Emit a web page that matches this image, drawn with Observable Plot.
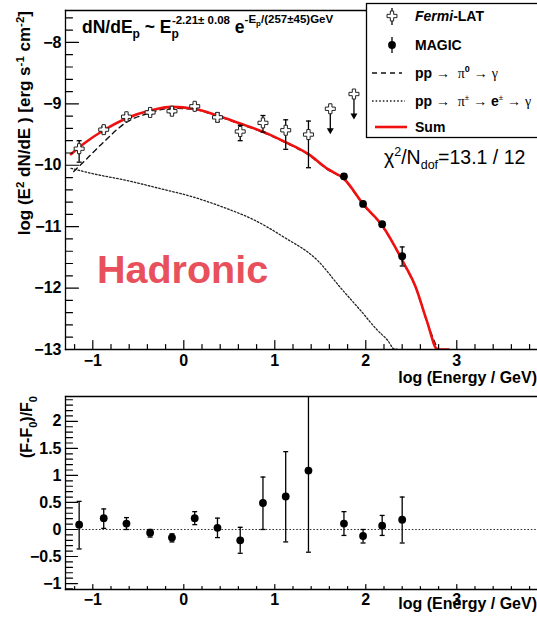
<!DOCTYPE html>
<html><head><meta charset="utf-8">
<script src="https://cdn.jsdelivr.net/npm/d3@7"></script>
<script src="https://cdn.jsdelivr.net/npm/@observablehq/plot@0.6"></script>
<style>
body{margin:0;background:#fff;}
#wrap{position:relative;width:537px;height:623px;overflow:hidden;background:#fff;}
#wrap svg{position:absolute;left:0;overflow:visible;}
</style></head><body><div id="wrap"></div>
<script>
// ---------- data ----------
const fermiX  = [-1.15,-0.88,-0.63,-0.37,-0.13,0.12,0.37,0.62,0.87,1.12,1.37];
const fermiY  = [-9.73,-9.42,-9.21,-9.14,-9.12,-9.04,-9.22,-9.45,-9.31,-9.43,-9.50];
const fermiLo = [-9.95,-9.47,-9.24,-9.17,-9.15,-9.07,-9.29,-9.60,-9.46,-9.74,-10.04];
const fermiHi = [-9.60,-9.37,-9.18,-9.11,-9.09,-9.01,-9.15,-9.35,-9.19,-9.26,-9.28];
const ulX   = [1.61, 1.87];
const ulY   = [-9.08, -8.84];
const ulEnd = [-9.43, -9.19];
const magicX  = [1.76, 1.97, 2.18, 2.40];
const magicY  = [-10.18, -10.63, -10.96, -11.48];
const magicLo = [-10.22, -10.67, -11.00, -11.64];
const magicHi = [-10.14, -10.59, -10.92, -11.33];
const sumX = [-1.24,-1.10,-0.88,-0.62,-0.37,-0.13,0.11,0.37,0.62,0.88,1.10,1.37,1.58,1.76,1.98,2.18,2.42,2.55,2.67,2.79,2.91];
const sumY = [-9.82,-9.65,-9.43,-9.23,-9.11,-9.05,-9.08,-9.19,-9.32,-9.46,-9.61,-9.82,-10.06,-10.22,-10.65,-10.98,-11.60,-11.99,-12.53,-13.0,-13.0];
const pi0X = [-1.21,-1.05,-0.88,-0.62,-0.40,-0.13,0.11,0.37,0.62,0.88,1.10,1.37,1.58,1.76,1.98,2.18,2.42,2.55,2.67,2.79];
const pi0Y = [-10.10,-9.87,-9.62,-9.29,-9.16,-9.07,-9.09,-9.20,-9.33,-9.47,-9.62,-9.83,-10.07,-10.23,-10.66,-10.99,-11.61,-12.00,-12.54,-13.0];
const secX = [-1.24,-0.99,-0.62,-0.26,0.11,0.48,0.73,1.10,1.47,1.72,1.94,2.13,2.24,2.31,2.36];
const secY = [-10.05,-10.14,-10.25,-10.38,-10.52,-10.71,-10.86,-11.17,-11.55,-11.99,-12.36,-12.69,-12.85,-12.99,-13.0];
const resY  = [0.09,0.21,0.11,-0.06,-0.15,0.21,0.03,-0.20,0.49,0.61,1.09,0.11,-0.12,0.07,0.18];
const resLo = [-0.36,0.02,0.00,-0.14,-0.23,0.09,-0.15,-0.44,0.00,-0.23,-0.42,-0.11,-0.25,-0.11,-0.25];
const resHi = [0.52,0.38,0.22,0.00,-0.08,0.33,0.21,0.04,0.97,1.44,2.60,0.33,0.00,0.26,0.60];
const xMajor = [-1,0,1,2,3];
const yTopMajor = [-13,-12,-11,-10,-9,-8];
const yResMajor = [-1,-0.5,0,0.5,1,1.5,2];

// ---------- helpers ----------
const FONT = "'Liberation Sans', Arial, Helvetica, sans-serif";
const SERIF = "'Liberation Serif', 'DejaVu Serif', serif";
const fmt = d => (d < 0 ? "\u2212" : "") + String(Math.abs(d));
const range = (a, b, s) => d3.range(Math.round(a / s), Math.round(b / s) + 1).map(i => +(i * s).toFixed(3));
const tickShape = {draw(ctx, l) { ctx.moveTo(0, 0); ctx.lineTo(0, -l); }};
const cap = {draw(ctx, size) { const w = Math.sqrt(size); ctx.moveTo(-w, 0); ctx.lineTo(w, 0); }};
const xTicks = (vals, len) => Plot.vector(vals, {x: d => d, frameAnchor: "bottom", length: len, anchor: "start", shape: tickShape, stroke: "black", strokeWidth: 1.2});
const yTicks = (vals, len) => Plot.vector(vals, {y: d => d, frameAnchor: "left", rotate: 90, length: len, anchor: "start", shape: tickShape, stroke: "black", strokeWidth: 1.2});

const fermi = fermiX.map((x, i) => ({x, y: fermiY[i], lo: fermiLo[i], hi: fermiHi[i]}));
const ul = ulX.map((x, i) => ({x, y: ulY[i], end: ulEnd[i]}));
const magic = magicX.map((x, i) => ({x, y: magicY[i], lo: magicLo[i], hi: magicHi[i]}));
const sum = sumX.map((x, i) => ({x, y: sumY[i]}));
const pi0 = pi0X.map((x, i) => ({x, y: pi0Y[i]}));
const sec = secX.map((x, i) => ({x, y: secY[i]}));
const resX = fermiX.concat(magicX);
const res = resX.map((x, i) => ({x, y: resY[i], lo: resLo[i], hi: resHi[i]}));

const xDomain = [-1.30, 3.887];
const styleObj = {fontFamily: FONT, background: "transparent", overflow: "visible"};

const topPlot = Plot.plot({
  width: 537, height: 392, marginTop: 10, marginBottom: 43, marginLeft: 65, marginRight: 0,
  x: {domain: xDomain}, y: {domain: [-13, -7.48]},
  style: styleObj,
  marks: [
    Plot.line(sec, {x: "x", y: "y", stroke: "#222", strokeWidth: 1.3, strokeDasharray: "1.6,2", curve: "monotone-x", clip: true}),
    Plot.line(pi0, {x: "x", y: "y", stroke: "#111", strokeWidth: 1.4, strokeDasharray: "5,4", curve: "monotone-x", clip: true}),
    Plot.line(sum, {x: "x", y: "y", stroke: "#f01010", strokeWidth: 2.6, curve: "monotone-x", clip: true}),
    Plot.ruleX(fermi, {x: "x", y1: "lo", y2: "hi", stroke: "black", strokeWidth: 1.3}),
    Plot.dot(fermi, {x: "x", y: "lo", symbol: cap, r: 1.4, fill: "none", stroke: "black", strokeWidth: 1.3}),
    Plot.dot(fermi, {x: "x", y: "hi", symbol: cap, r: 1.4, fill: "none", stroke: "black", strokeWidth: 1.3}),
    Plot.ruleX(ul, {x: "x", y1: "y", y2: "end", stroke: "black", strokeWidth: 1.3}),
    Plot.dot(ul, {x: "x", y: "end", symbol: "triangle", rotate: 180, r: 2.6, fill: "black", stroke: "none"}),
    Plot.dot(fermi.concat(ul), {x: "x", y: "y", symbol: "cross", r: 4.2, fill: "white", stroke: "#222", strokeWidth: 1}),
    Plot.ruleX(magic, {x: "x", y1: "lo", y2: "hi", stroke: "black", strokeWidth: 1.3}),
    Plot.dot(magic, {x: "x", y: "lo", symbol: cap, r: 1.4, fill: "none", stroke: "black", strokeWidth: 1.3}),
    Plot.dot(magic, {x: "x", y: "hi", symbol: cap, r: 1.4, fill: "none", stroke: "black", strokeWidth: 1.3}),
    Plot.dot(magic, {x: "x", y: "y", r: 3.9, fill: "black"}),
    Plot.frame({anchor: "top", strokeWidth: 1.3}),
    Plot.frame({anchor: "left", strokeWidth: 1.3}),
    Plot.frame({anchor: "bottom", strokeWidth: 1.3}),
    xTicks(xMajor, 9),
    xTicks(range(-1.2, 3.8, 0.2).filter(v => !xMajor.includes(v)), 5),
    yTicks(yTopMajor, 13),
    yTicks(range(-13, -7.6, 0.2).filter(v => !yTopMajor.includes(v)), 7),
    Plot.axisX(xMajor, {tickSize: 0, tickPadding: 5, label: null, tickFormat: fmt, fontSize: 16, fontWeight: "bold"}),
    Plot.axisY(yTopMajor, {tickSize: 0, tickPadding: 4, label: null, tickFormat: fmt, fontSize: 16, fontWeight: "bold"})
  ]
});

const botPlot = Plot.plot({
  width: 537, height: 243, marginTop: 16, marginBottom: 34, marginLeft: 65, marginRight: 0,
  x: {domain: xDomain}, y: {domain: [-1.11, 2.46]},
  style: styleObj,
  marks: [
    Plot.ruleY([0], {stroke: "#333", strokeWidth: 1.2, strokeDasharray: "1.6,1.8"}),
    Plot.ruleX(res, {x: "x", y1: "lo", y2: "hi", stroke: "black", strokeWidth: 1.3, clip: true}),
    Plot.dot(res, {x: "x", y: "lo", symbol: cap, r: 1.4, fill: "none", stroke: "black", strokeWidth: 1.3, clip: true}),
    Plot.dot(res, {x: "x", y: "hi", symbol: cap, r: 1.4, fill: "none", stroke: "black", strokeWidth: 1.3, clip: true}),
    Plot.dot(res, {x: "x", y: "y", r: 3.9, fill: "black"}),
    Plot.frame({anchor: "top", strokeWidth: 1.3}),
    Plot.frame({anchor: "left", strokeWidth: 1.3}),
    Plot.frame({anchor: "bottom", strokeWidth: 1.3}),
    xTicks(xMajor, 5),
    xTicks(range(-1.2, 3.8, 0.2).filter(v => !xMajor.includes(v)), 3),
    yTicks(yResMajor, 12),
    yTicks(range(-1.1, 2.4, 0.1).filter(v => !yResMajor.includes(v)), 7),
    Plot.axisX(xMajor, {tickSize: 0, tickPadding: 4, label: null, tickFormat: fmt, fontSize: 16, fontWeight: "bold"}),
    Plot.axisY(yResMajor, {tickSize: 0, tickPadding: 4, label: null, tickFormat: fmt, fontSize: 16, fontWeight: "bold"})
  ]
});

const wrap = document.getElementById("wrap");
topPlot.style.top = "0px";
botPlot.style.top = "380px";
wrap.appendChild(botPlot);
wrap.appendChild(topPlot);

// ---------- rich text helper ----------
function rich(svgNode, x, y, parts, base) {
  const g = d3.select(svgNode);
  const t = g.append("text").attr("x", x).attr("y", y)
    .attr("font-family", base.family || FONT).attr("font-size", base.size)
    .attr("font-weight", base.weight || "bold").attr("fill", base.fill || "black")
    .attr("text-anchor", base.anchor || "start")
    .style("white-space", "pre");
  if (base.rotate) t.attr("transform", `rotate(${base.rotate},${x},${y})`);
  let cur = 0;
  for (const p of parts) {
    const off = p.off || 0;
    const s = t.append("tspan").text(p.t).attr("dy", off - cur);
    cur = off;
    if (p.dx) s.attr("dx", p.dx);
    if (p.size) s.attr("font-size", p.size);
    if (p.style) s.attr("font-style", p.style);
    if (p.family) s.attr("font-family", p.family);
    if (p.weight) s.attr("font-weight", p.weight);
  }
  return t;
}

// formula
rich(topPlot, 82, 33, [
  {t: "dN/dE"}, {t: "p", off: 5, size: 12}, {t: " ~ E", off: 0}, {t: "p", off: 5, size: 12},
  {t: "-2.21\u00b1 0.08", off: -9, size: 11.5, dx: -7}, {t: " e", off: 0},
  {t: "-E", off: -10, size: 11.5}, {t: "p", off: -7, size: 8}, {t: "/(257\u00b145)GeV", off: -10, size: 11.5}
], {size: 17.5});

// axis titles
rich(topPlot, 30, 11, [
  {t: "log (E"}, {t: "2", off: -6, size: 11.5}, {t: " dN/dE ) [erg s", off: 0},
  {t: "-1", off: -6, size: 11.5}, {t: " cm", off: 0}, {t: "-2", off: -6, size: 11.5}, {t: "]", off: 0}
], {size: 17, anchor: "end", rotate: -90});
rich(topPlot, 537, 383, [{t: "log (Energy / GeV)"}], {size: 16, anchor: "end"});
rich(botPlot, 32, 16, [
  {t: "(F-F"}, {t: "0", off: 5, size: 11}, {t: ")/F", off: 0}, {t: "0", off: 5, size: 11}
], {size: 16, anchor: "end", rotate: -90});
rich(botPlot, 537, 229, [{t: "log (Energy / GeV)"}], {size: 16, anchor: "end"});

// Hadronic
rich(topPlot, 97, 283, [{t: "Hadronic"}], {size: 39.5, fill: "#e8505c"});

// chi2
rich(topPlot, 384, 164, [
  {t: "\u03c7"}, {t: "2", off: -8, size: 12.5}, {t: "/N", off: 0}, {t: "dof", off: 5, size: 12.5}, {t: "=13.1 / 12", off: 0}
], {size: 19.5, weight: "normal"});

// legend
const L = d3.select(topPlot);
L.append("rect").attr("x", 366.5).attr("y", 3.5).attr("width", 200).attr("height", 134).attr("fill", "white").attr("stroke", "black").attr("stroke-width", 1.3);
const lg = L.append("g");
lg.append("line").attr("x1", 392).attr("x2", 392).attr("y1", 8).attr("y2", 25).attr("stroke", "black").attr("stroke-width", 1.3);
lg.append("path").attr("d", d3.symbol(d3.symbolCross, 55)()).attr("transform", "translate(392,16)").attr("fill", "white").attr("stroke", "#222");
rich(topPlot, 415, 21, [{t: "Fermi", style: "italic"}, {t: "-LAT"}], {size: 14});
lg.append("line").attr("x1", 392).attr("x2", 392).attr("y1", 37).attr("y2", 53).attr("stroke", "black").attr("stroke-width", 1.3);
lg.append("circle").attr("cx", 392).attr("cy", 45).attr("r", 3.9).attr("fill", "black");
rich(topPlot, 415, 50, [{t: "MAGIC"}], {size: 14});
lg.append("line").attr("x1", 372).attr("x2", 402).attr("y1", 73).attr("y2", 73).attr("stroke", "#111").attr("stroke-width", 1.4).attr("stroke-dasharray", "5,4");
rich(topPlot, 415, 78, [
  {t: "pp"}, {t: " \u2192  ", weight: "normal"}, {t: "\u03c0", family: SERIF, weight: "normal"},
  {t: "0", off: -6, size: 9}, {t: " \u2192 ", off: 0, weight: "normal"}, {t: "\u03b3", family: SERIF, weight: "normal"}
], {size: 14});
lg.append("line").attr("x1", 372).attr("x2", 405).attr("y1", 101).attr("y2", 101).attr("stroke", "#222").attr("stroke-width", 1.3).attr("stroke-dasharray", "1.6,2");
rich(topPlot, 415, 106, [
  {t: "pp"}, {t: " \u2192  ", weight: "normal"}, {t: "\u03c0", family: SERIF, weight: "normal"},
  {t: "\u00b1", off: -6, size: 8, weight: "normal"}, {t: " \u2192 ", off: 0, weight: "normal"}, {t: "e"},
  {t: "\u00b1", off: -6, size: 8, weight: "normal"}, {t: " \u2192 ", off: 0, weight: "normal"}, {t: "\u03b3", family: SERIF, weight: "normal"}
], {size: 14});
lg.append("line").attr("x1", 375).attr("x2", 407).attr("y1", 127).attr("y2", 127).attr("stroke", "#f01010").attr("stroke-width", 2.6);
rich(topPlot, 415, 132, [{t: "Sum"}], {size: 14});
</script></body></html>
